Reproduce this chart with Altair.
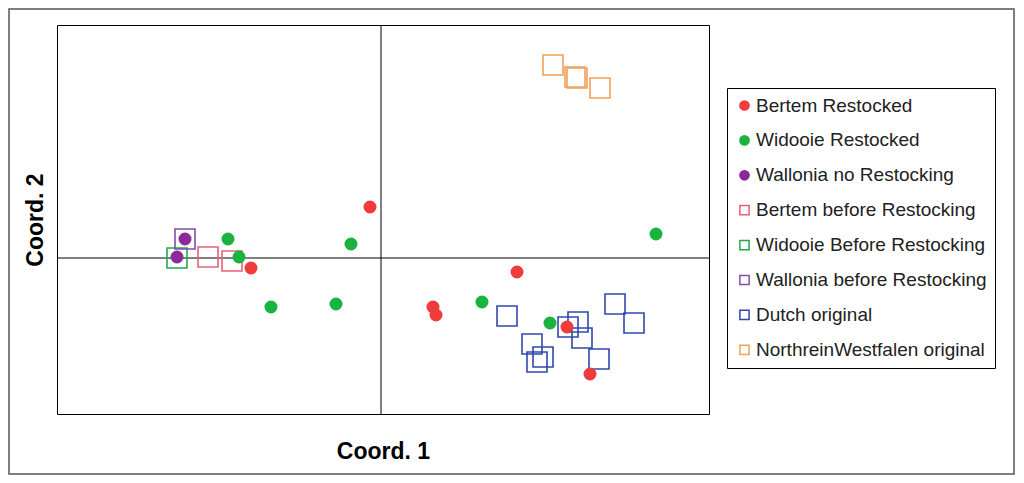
import altair as alt
import pandas as pd

# ---- data ----
groups = [
    "Bertem Restocked",
    "Widooie Restocked",
    "Wallonia no Restocking",
    "Bertem before Restocking",
    "Widooie Before Restocking",
    "Wallonia before Restocking",
    "Dutch original",
    "NorthreinWestfalen original",
]

bertem_restocked_x = [-0.11, -1.30, 1.36, 0.52, 0.55, 1.86, 2.09]
bertem_restocked_y = [0.51, -0.10, -0.14, -0.49, -0.57, -0.69, -1.16]

widooie_restocked_x = [-1.53, -1.42, -1.10, -0.45, -0.30, 1.01, 1.69, 2.75]
widooie_restocked_y = [0.19, 0.01, -0.49, -0.46, 0.14, -0.44, -0.65, 0.24]

wallonia_norestock_x = [-1.96, -2.04]
wallonia_norestock_y = [0.19, 0.01]

bertem_before_x = [-1.73, -1.49]
bertem_before_y = [0.01, -0.03]

widooie_before_x = [-2.04]
widooie_before_y = [0.00]

wallonia_before_x = [-1.96]
wallonia_before_y = [0.19]

dutch_x = [1.26, 1.51, 1.62, 1.56, 1.87, 1.97, 2.01, 2.18, 2.34, 2.53]
dutch_y = [-0.58, -0.86, -0.99, -1.04, -0.69, -0.64, -0.80, -1.01, -0.46, -0.65]

nrw_x = [1.72, 1.94, 1.96, 2.19]
nrw_y = [1.93, 1.81, 1.80, 1.70]

x_domain = [-3.24, 3.28]
y_domain = [-1.56, 2.33]

# ---- styles ----
stroke_colors = ["#F03C3C", "#1BB340", "#8B2A9A", "#E8607A",
                 "#22AA44", "#7D4FA8", "#2E48B0", "#F2A05A"]
fill_colors = ["#F03C3C", "#1BB340", "#8B2A9A", "transparent",
               "transparent", "transparent", "transparent", "transparent"]
shapes = ["circle", "circle", "circle", "square",
          "square", "square", "square", "square"]
marker_size = {"circle": 130, "square": 400}

series = {
    "Bertem Restocked": (bertem_restocked_x, bertem_restocked_y),
    "Widooie Restocked": (widooie_restocked_x, widooie_restocked_y),
    "Wallonia no Restocking": (wallonia_norestock_x, wallonia_norestock_y),
    "Bertem before Restocking": (bertem_before_x, bertem_before_y),
    "Widooie Before Restocking": (widooie_before_x, widooie_before_y),
    "Wallonia before Restocking": (wallonia_before_x, wallonia_before_y),
    "Dutch original": (dutch_x, dutch_y),
    "NorthreinWestfalen original": (nrw_x, nrw_y),
}

rows = []
# squares first so that the filled circles are drawn on top
draw_order = groups[3:] + groups[:3]
for g in draw_order:
    xs, ys = series[g]
    shp = shapes[groups.index(g)]
    for xv, yv in zip(xs, ys):
        rows.append({"group": g, "x": xv, "y": yv, "sz": marker_size[shp]})
df = pd.DataFrame(rows)

legend = alt.Legend(title=None)

points = alt.Chart(df).mark_point(strokeWidth=1.6, opacity=1).encode(
    x=alt.X("x:Q", scale=alt.Scale(domain=x_domain, nice=False, zero=False),
            axis=alt.Axis(title="Coord. 1")),
    y=alt.Y("y:Q", scale=alt.Scale(domain=y_domain, nice=False, zero=False),
            axis=alt.Axis(title="Coord. 2")),
    stroke=alt.Stroke("group:N", scale=alt.Scale(domain=groups, range=stroke_colors), legend=legend),
    fill=alt.Fill("group:N", scale=alt.Scale(domain=groups, range=fill_colors), legend=legend),
    shape=alt.Shape("group:N", scale=alt.Scale(domain=groups, range=shapes), legend=legend),
    size=alt.Size("sz:Q", scale=None, legend=None),
)

zero = pd.DataFrame({"v": [0.0]})
vrule = alt.Chart(zero).mark_rule(color="black", strokeWidth=1).encode(x="v:Q")
hrule = alt.Chart(zero).mark_rule(color="black", strokeWidth=1).encode(y="v:Q")

frame = alt.Chart(zero).mark_rect(fill="transparent", stroke="#555555", strokeWidth=1.5).encode(
    x=alt.value(-48), x2=alt.value(957), y=alt.value(-16), y2=alt.value(449)
)

chart = alt.layer(frame, vrule, hrule, points).properties(
    width=652,
    height=389,
    autosize=alt.AutoSizeParams(type="none"),
    padding={"left": 49, "top": 17, "right": 307, "bottom": 61},
).configure_view(
    stroke="black", strokeWidth=1
).configure_axis(
    labels=False, ticks=False, domain=False, grid=False,
    titleFont="Liberation Sans", titleFontSize=23, titleFontWeight="bold",
    titleColor="black",
).configure_axisX(
    titlePadding=26
).configure_axisY(
    titlePadding=10
).configure_legend(
    orient="none", legendX=670, legendY=63,
    strokeColor="black", fillColor="white", padding=8,
    labelFont="Liberation Sans", labelFontSize=19, labelColor="#222222",
    labelLimit=400, labelOffset=2,
    symbolSize=85, symbolStrokeWidth=1.5, rowPadding=14.9,
)

chart.save("out.html", embed_options={"renderer": "svg", "actions": False})
